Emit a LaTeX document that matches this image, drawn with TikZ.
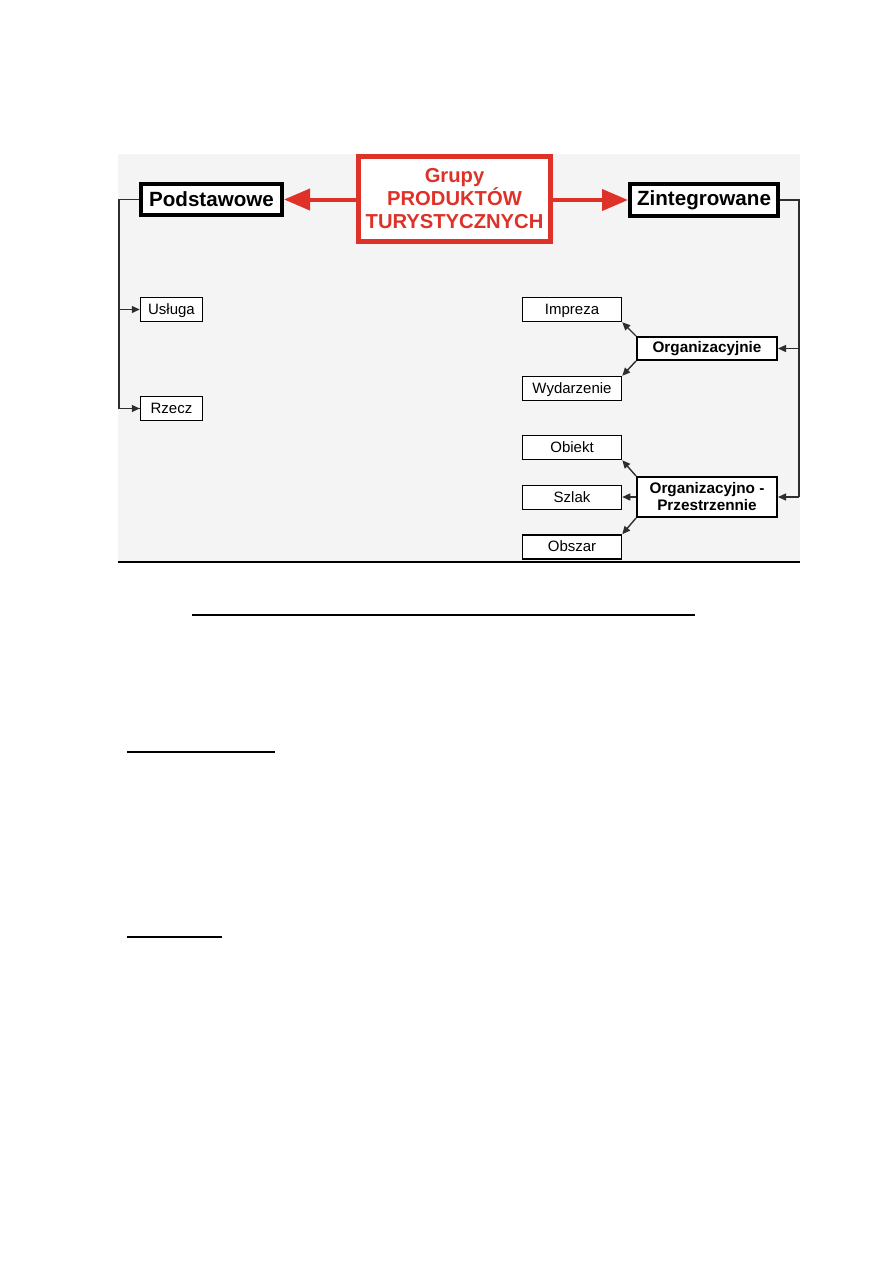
\documentclass[tikz,border=0pt]{standalone}
\usepackage{fontspec}
\setmainfont{Liberation Sans}
\usetikzlibrary{arrows.meta}

\begin{document}
\begin{tikzpicture}[x=1pt, y=-1pt,
    mainBox/.style={draw=black, fill=white, line width=4pt, inner sep=0pt,
        font=\fontsize{20.6}{24}\selectfont\bfseries},
    groupBox/.style={draw=redColour, fill=white, line width=5pt, inner sep=0pt,
        text=redColour, align=center, font=\fontsize{20.2}{23}\selectfont\bfseries},
    subBox/.style={draw=black, fill=white, line width=2pt, inner sep=0pt,
        align=center, font=\fontsize{15.3}{17}\selectfont\bfseries},
    leafBox/.style={draw=black, fill=white, line width=1.5pt, inner sep=0pt,
        text height=11pt, text depth=2pt, font=\fontsize{15}{18}\selectfont},
    bigArrow/.style={draw=redColour, line width=4pt, -{Triangle[length=26pt,width=21pt]}},
    link/.style={draw=lineColour, line width=1.4pt},
    smallArrow/.style={link, -{Triangle[length=8pt,width=7pt]}}
  ]
    \definecolor{redColour}{HTML}{DE3127}
    \definecolor{lineColour}{HTML}{2E2E2E}
    \definecolor{backColour}{HTML}{F4F4F4}

    \useasboundingbox (0,0) rectangle (893,1263);

    % Background of the chart
    \fill[backColour] (118,154) rectangle (800,562);

    % Top row
    \node[groupBox, minimum width=192pt, minimum height=85pt] (group) at (454.5,199)
        {Grupy\\PRODUKTÓW\\TURYSTYCZNYCH};
    \node[mainBox, minimum width=141pt, minimum height=31pt] (basic) at (211.5,199.5) {Podstawowe};
    \node[mainBox, minimum width=148pt, minimum height=32pt] (integ) at (704,200) {Zintegrowane};

    \draw[bigArrow] (group.west |- basic.east) -- (basic.east);
    \draw[bigArrow] (group.east |- integ.west) -- (integ.west);

    % Left branch
    \node[leafBox, minimum width=62pt, minimum height=24pt] (service) at (171.5,309.5) {Usługa};
    \node[leafBox, minimum width=62pt, minimum height=24pt] (thing) at (171.5,408.5) {Rzecz};

    \coordinate (leftTop) at (119,199.5);
    \draw[link] (basic.west) -- (leftTop) |- (thing.west);
    \draw[smallArrow] (leftTop |- service.west) -- (service.west);
    \draw[smallArrow] (leftTop |- thing.west) -- (thing.west);

    % Right branch
    \node[subBox, minimum width=140pt, minimum height=23pt] (org) at (707,348.5) {Organizacyjnie};
    \node[subBox, minimum width=140pt, minimum height=40pt] (orgSpace) at (707,497)
        {Organizacyjno -\\Przestrzennie};

    \coordinate (rightTop) at (799,200);
    \draw[link] (integ.east) -- (rightTop) -- (rightTop |- orgSpace.east);
    \draw[smallArrow] (rightTop |- org.east) -- (org.east);
    \draw[smallArrow] (rightTop |- orgSpace.east) -- (orgSpace.east);

    \node[leafBox, minimum width=99pt, minimum height=24pt] (event) at (572,309.5) {Impreza};
    \node[leafBox, minimum width=99pt, minimum height=24pt] (happening) at (572,388.5) {Wydarzenie};
    \node[leafBox, minimum width=99pt, minimum height=24pt] (object) at (572,447.5) {Obiekt};
    \node[leafBox, minimum width=99pt, minimum height=24pt] (trail) at (572,497.5) {Szlak};
    \node[leafBox, minimum width=99pt, minimum height=24pt] (area) at (572,547) {Obszar};

    \draw[smallArrow] (org.north west) -- (event.south east);
    \draw[smallArrow] (org.south west) -- (happening.north east);
    \draw[smallArrow] (orgSpace.north west) -- (object.south east);
    \draw[smallArrow] (orgSpace.west) -- (trail.east |- orgSpace.west);
    \draw[smallArrow] (orgSpace.south west) -- (area.north east);

    % Rules below the chart
    \draw[line width=1.5pt] (118,562) -- (800,562);
    \draw[line width=2pt] (192,615) -- (695,615);
    \draw[line width=1.5pt] (127,752) -- (275,752);
    \draw[line width=1.5pt] (127,937) -- (222,937);
\end{tikzpicture}
\end{document}
